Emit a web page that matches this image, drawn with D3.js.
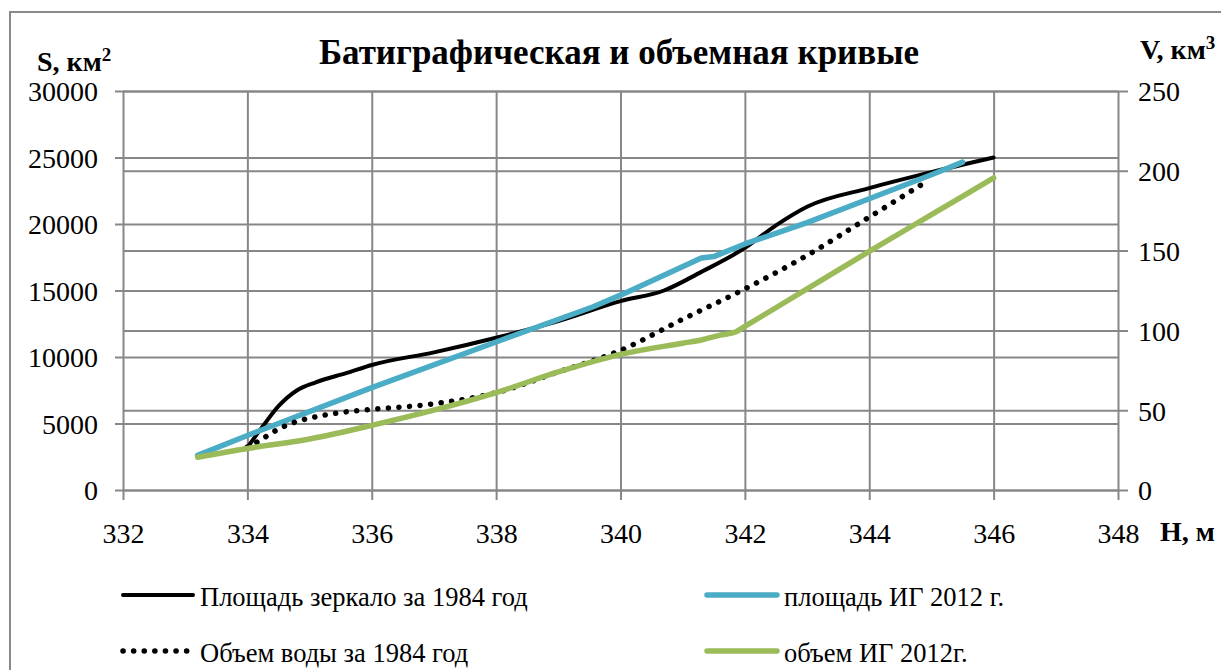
<!DOCTYPE html>
<html><head><meta charset="utf-8">
<script src="https://cdn.jsdelivr.net/npm/d3@7"></script>
<style>
body{margin:0;background:#fff;}
svg text{font-family:"Liberation Serif","Times New Roman",serif !important;fill:#000;}
</style></head>
<body><svg id="c" width="1221" height="670"></svg>
<script>
// ---- data ----
const title = "Батиграфическая и объемная кривые";
const xTicks = [332,334,336,338,340,342,344,346,348];
const leftTicks = [0,5000,10000,15000,20000,25000,30000];
const rightTicks = [0,50,100,150,200,250];

const h1984S = [334,334.25,334.5,334.8,335.1,335.6,336,337,338,339,340,340.7,341.3,342,342.5,343,344,345,346];
const s1984  = [3200,4800,6300,7500,8100,8800,9400,10350,11450,12700,14200,15000,16400,18200,19900,21300,22700,23900,25000];

const h2012S = [333.2,334,336,338,339.55,340,341.3,341.5,342,343,344,345,345.5];
const s2012  = [2600,4100,7700,11130,13760,14650,17450,17550,18500,20100,21900,23700,24650];

const h1984V = [334,334.2,334.4,334.6,334.8,335,335.5,336,337,338,339,340,341,342,343,344,344.95];
const v1984  = [27,31,36,40,43,45,48.5,50.5,54,61,74,87.5,107,126,147,171,194];

const h2012V = [333.2,334,335,336,337,338,339,340,341,341.3,341.6,341.85,342,343,344,345,346];
const v2012  = [20.5,26,32,40.5,50,61,74,85,92,94,97,99,102.5,126,149.5,172.5,195.5];

const legendLabels = ["Площадь зеркало за 1984 год","площадь ИГ 2012 г.","Объем воды за 1984 год","объем ИГ 2012г."];

// ---- drawing ----
const FONT = "Liberation Serif, Times New Roman, serif";
const svg = d3.select("#c");
const gridColor = "#878787";
const x = d3.scaleLinear().domain([332,348]).range([123,1118]);
const yL = d3.scaleLinear().domain([0,30000]).range([490,91]);
const yR = d3.scaleLinear().domain([0,250]).range([490,91]);

// outer border
svg.append("rect").attr("x",10).attr("y",12).attr("width",1230).attr("height",680)
  .attr("fill","none").attr("stroke","#8a8a8a").attr("stroke-width",2);

// vertical gridlines + x labels
const gx = svg.append("g").attr("transform","translate(0,500)")
  .call(d3.axisBottom(x).tickValues(xTicks).tickSize(-409).tickSizeOuter(0).tickPadding(0));
gx.attr("font-family",FONT).attr("font-size",28);
gx.select(".domain").remove();
gx.selectAll("line").attr("stroke",gridColor).attr("stroke-width",2);
gx.selectAll("text").attr("y",43).attr("dy",null).attr("font-size",28).style("font-family",FONT);

// left horizontal gridlines
const gl = svg.append("g").attr("transform","translate(115,0)")
  .call(d3.axisLeft(yL).tickValues(leftTicks).tickSize(-1003).tickSizeOuter(0).tickFormat(d3.format("d")));
gl.attr("font-family",FONT).attr("font-size",28);
gl.select(".domain").remove();
gl.selectAll("line").attr("stroke",gridColor).attr("stroke-width",2);
gl.selectAll("text").attr("x",-17).attr("dy","0.35em").attr("font-size",28).style("font-family",FONT);

// right horizontal gridlines
const gr = svg.append("g").attr("transform","translate(1128,0)")
  .call(d3.axisRight(yR).tickValues(rightTicks).tickSize(-1005).tickSizeOuter(0));
gr.attr("font-family",FONT).attr("font-size",28);
gr.select(".domain").remove();
gr.selectAll("line").attr("stroke",gridColor).attr("stroke-width",2);
gr.selectAll("text").attr("x",10).attr("dy","0.35em").attr("font-size",28).style("font-family",FONT);

// titles
svg.append("text").attr("x",619).attr("y",64).attr("text-anchor","middle")
  .attr("font-size",35).attr("font-weight","bold").text(title);
const sl = svg.append("text").attr("x",37).attr("y",71).attr("font-size",28).attr("font-weight","bold");
sl.append("tspan").text("S, км");
sl.append("tspan").attr("font-size",19).attr("dy",-10).text("2");
const vl = svg.append("text").attr("x",1140).attr("y",59).attr("font-size",28).attr("font-weight","bold");
vl.append("tspan").text("V, км");
vl.append("tspan").attr("font-size",19).attr("dy",-10).text("3");
svg.append("text").attr("x",1160).attr("y",541).attr("font-size",28).attr("font-weight","bold").text("H, м");

// series
const series = [
  {h:h1984S, v:s1984, y:yL, color:"#000000", w:4, dash:null, curve:d3.curveMonotoneX},
  {h:h2012S, v:s2012, y:yL, color:"#4bacc6", w:5.5, dash:null, curve:d3.curveLinear},
  {h:h1984V, v:v1984, y:yR, color:"#000000", w:5.5, dash:"0.1 10.5", curve:d3.curveMonotoneX},
  {h:h2012V, v:v2012, y:yR, color:"#9bbb59", w:5.5, dash:null, curve:d3.curveMonotoneX}
];
series.forEach(s=>{
  const line = d3.line().x((d,i)=>x(s.h[i])).y(d=>s.y(d)).curve(s.curve);
  svg.append("path").attr("d",line(s.v)).attr("fill","none")
    .attr("stroke",s.color).attr("stroke-width",s.w)
    .attr("stroke-linecap","round").attr("stroke-linejoin","round")
    .attr("stroke-dasharray",s.dash);
});

// legend
const legPos = [[123,595],[707,595],[123,651],[707,651]];
series.forEach((s,i)=>{
  const [lx,ly] = legPos[i];
  svg.append("line").attr("x1",lx).attr("x2",lx+70).attr("y1",ly).attr("y2",ly)
    .attr("stroke",s.color).attr("stroke-width",s.w)
    .attr("stroke-linecap","round").attr("stroke-dasharray",s.dash);
  svg.append("text").attr("x",lx+77).attr("y",ly+11).attr("font-size",26.5).text(legendLabels[i]);
});
</script></body></html>
